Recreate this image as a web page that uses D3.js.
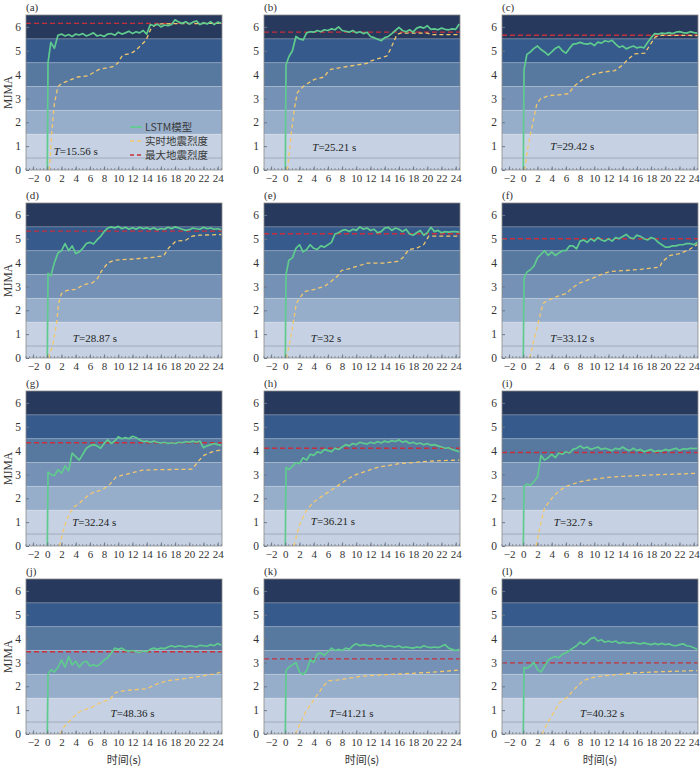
<!DOCTYPE html>
<html>
<head>
<meta charset="utf-8">
<script src="https://cdn.jsdelivr.net/npm/d3@7"></script>
<style>
  body { margin: 0; background: #fff; }
  svg { display: block; }
</style>
</head>
<body>
<div id="chart"></div>
<script>
// panel letters, duration annotation and peak (final) intensity
const panelNames   = ['a', 'b', 'c', 'd', 'e', 'f', 'g', 'h', 'i', 'j', 'k', 'l'];
const durations    = ['15.56', '25.21', '29.42', '28.87', '32', '33.12', '32.24', '36.21', '32.7', '48.36', '41.21', '40.32'];
const peakIntensity = [6.15, 5.78, 5.65, 5.32, 5.21, 5.0, 4.33, 4.1, 3.92, 3.45, 3.15, 2.98];
const xTicks = [-2, 0, 2, 4, 6, 8, 10, 12, 14, 16, 18, 20, 22, 24];
const yTicks = [0, 1, 2, 3, 4, 5, 6];

// LSTM prediction, sampled at these times (s)
const lstmTime = [0, 0.1, 0.5, 1, 1.5, 2, 2.5, 3, 3.5, 4,
  4.5, 5, 5.5, 6, 6.5, 7, 7.5, 8, 8.5, 9,
  9.5, 10, 10.5, 11, 11.5, 12, 12.5, 13, 13.5, 14,
  14.5, 15, 15.5, 16, 16.5, 17, 17.5, 18, 18.5, 19,
  19.5, 20, 20.5, 21, 21.5, 22, 22.5, 23, 23.5, 24,
  24.5];
const lstmA = [0, 4.5, 5.35, 5.1, 5.65, 5.7, 5.62, 5.68, 5.6, 5.7,
  5.66, 5.72, 5.62, 5.68, 5.75, 5.62, 5.66, 5.6, 5.7, 5.72,
  5.65, 5.78, 5.7, 5.75, 5.82, 5.72, 5.8, 5.75, 5.85, 5.7,
  6.1, 6.05, 6.12, 6.0, 6.08, 6.05, 6.1, 6.3, 6.2, 6.15,
  6.22, 6.12, 6.2, 6.25, 6.1, 6.18, 6.12, 6.22, 6.1, 6.2,
  6.15];
const lstmB = [0, 4.4, 4.75, 5.0, 5.6, 5.5, 5.45, 5.75, 5.8, 5.78,
  5.85, 5.8, 5.88, 5.85, 5.92, 5.88, 6.0, 5.85, 5.82, 5.78,
  5.85, 5.75, 5.8, 5.72, 5.78, 5.6, 5.55, 5.48, 5.42, 5.55,
  5.6, 5.72, 5.85, 5.98, 5.85, 5.8, 5.88, 5.78, 5.95, 6.0,
  5.95, 6.05, 5.9, 5.92, 5.88, 5.95, 5.9, 5.88, 5.92, 5.9,
  6.12];
const lstmC = [0, 4.2, 4.85, 4.95, 5.1, 5.2, 5.05, 4.95, 4.82, 4.95,
  5.1, 5.18, 5.0, 4.9, 5.1, 5.28, 5.3, 5.35, 5.3, 5.28,
  5.32, 5.22, 5.36, 5.32, 5.42, 5.38, 5.44, 5.28, 5.15, 5.2,
  5.08, 5.15, 5.2, 5.12, 5.16, 5.12, 5.35, 5.55, 5.72, 5.7,
  5.74, 5.72, 5.76, 5.72, 5.78, 5.8, 5.76, 5.74, 5.8, 5.76,
  5.74];
const lstmD = [0, 3.55, 3.45, 4.0, 4.4, 4.5, 4.8, 4.5, 4.7, 4.38,
  4.45, 4.6, 4.8, 4.85, 4.78, 4.95, 5.1, 5.3, 5.45, 5.5,
  5.45, 5.52, 5.42, 5.48, 5.4, 5.46, 5.4, 5.48, 5.42, 5.46,
  5.4, 5.46, 5.38, 5.43, 5.4, 5.48, 5.42, 5.5, 5.45, 5.4,
  5.35, 5.38, 5.45, 5.42, 5.4, 5.48, 5.42, 5.45, 5.4, 5.42,
  5.38];
const lstmE = [0, 3.5, 4.1, 4.2, 4.6, 4.75, 4.45, 4.55, 4.75, 4.6,
  4.55, 4.7, 4.65, 4.75, 4.85, 5.2, 5.25, 5.35, 5.38, 5.3,
  5.4, 5.35, 5.5, 5.4, 5.45, 5.35, 5.4, 5.25, 5.3, 5.45,
  5.48, 5.35, 5.45, 5.4, 5.3, 5.4, 5.2, 5.15, 5.25, 5.35,
  5.15, 5.25, 5.48, 5.3, 5.35, 5.25, 5.3, 5.28, 5.3, 5.3,
  5.28];
const lstmF = [0, 3.35, 3.6, 3.7, 3.85, 4.2, 4.35, 4.5, 4.3, 4.45,
  4.3, 4.4, 4.5, 4.5, 4.7, 4.7, 4.58, 4.9, 4.95, 4.85,
  5.0, 4.9, 5.05, 4.95, 4.9, 5.0, 4.9, 5.05, 5.0, 5.1,
  5.18, 5.05, 5.0, 5.15, 5.1, 5.0, 4.95, 5.05, 5.0, 4.85,
  4.75, 4.65, 4.65, 4.7, 4.7, 4.75, 4.75, 4.8, 4.8, 4.75,
  4.85];
const lstmG = [0, 3.1, 3.0, 2.95, 3.2, 3.05, 3.35, 3.15, 3.9, 3.75,
  3.6, 3.85, 4.1, 4.2, 4.25, 4.2, 4.1, 4.3, 4.45, 4.3,
  4.4, 4.58, 4.5, 4.55, 4.5, 4.6, 4.55, 4.45, 4.38, 4.4,
  4.35, 4.4, 4.35, 4.32, 4.35, 4.3, 4.33, 4.3, 4.35, 4.33,
  4.38, 4.35, 4.4, 4.35, 4.4, 4.12, 4.2, 4.25, 4.3, 4.25,
  4.22];
const lstmH = [0, 3.3, 3.2, 3.35, 3.5, 3.45, 3.7, 3.6, 3.85, 3.8,
  3.95, 3.9, 4.05, 4.0, 3.95, 4.1, 4.05, 4.15, 4.25, 4.2,
  4.3, 4.25, 4.35, 4.3, 4.28, 4.35, 4.3, 4.38, 4.32, 4.4,
  4.35, 4.42, 4.38, 4.45, 4.35, 4.4, 4.3, 4.35, 4.28, 4.32,
  4.25, 4.3, 4.22, 4.25, 4.2, 4.15, 4.1, 4.12, 4.05, 4.0,
  3.95];
const lstmI = [0, 2.5, 2.6, 2.55, 2.7, 2.9, 3.8, 3.6, 3.7, 3.85,
  3.7, 3.9, 3.85, 3.95, 3.9, 4.05, 4.1, 4.2, 4.1, 4.15,
  4.05, 4.1, 4.15, 4.05, 4.1, 4.05, 4.0, 4.1, 4.05, 4.15,
  4.05, 4.0, 4.1, 4.0, 4.05, 3.95, 4.0, 4.05, 3.95, 4.0,
  3.98, 4.05, 4.0, 4.05, 4.1, 4.0, 4.08, 4.05, 4.1, 4.08,
  4.1];
const lstmJ = [0, 2.5, 2.7, 2.6, 2.8, 3.1, 2.8, 3.25, 2.9, 3.05,
  2.8, 3.0, 3.05, 2.85, 2.9, 2.85, 2.95, 3.1, 3.2, 3.4,
  3.6, 3.55, 3.6, 3.5, 3.48, 3.5, 3.45, 3.42, 3.48, 3.45,
  3.55, 3.6, 3.55, 3.6, 3.58, 3.65, 3.7, 3.65, 3.7, 3.68,
  3.65, 3.7, 3.68, 3.65, 3.72, 3.7, 3.68, 3.75, 3.7, 3.8,
  3.72];
const lstmK = [0, 2.65, 2.8, 2.9, 3.0, 2.6, 2.5, 2.65, 3.1, 3.0,
  3.35, 3.4, 3.3, 3.45, 3.6, 3.5, 3.55, 3.5, 3.6, 3.55,
  3.7, 3.78, 3.7, 3.75, 3.72, 3.7, 3.75, 3.68, 3.72, 3.65,
  3.7, 3.68, 3.65, 3.7, 3.62, 3.65, 3.62, 3.6, 3.65, 3.62,
  3.7, 3.65, 3.62, 3.65, 3.62, 3.68, 3.75, 3.6, 3.55, 3.5,
  3.55];
const lstmL = [0, 2.8, 2.75, 2.85, 3.0, 2.7, 2.6, 2.85, 3.1, 3.2,
  3.25, 3.2, 3.35, 3.4, 3.5, 3.6, 3.7, 3.85, 3.75, 3.85,
  4.0, 4.05, 3.9, 3.95, 3.85, 3.9, 3.85, 3.9, 3.8, 3.85,
  3.82, 3.8, 3.85, 3.8, 3.78, 3.82, 3.78, 3.75, 3.8, 3.75,
  3.8, 3.75, 3.78, 3.72, 3.7, 3.75, 3.78, 3.7, 3.68, 3.62,
  3.55];
const lstmSeries = [lstmA, lstmB, lstmC, lstmD, lstmE, lstmF, lstmG, lstmH, lstmI, lstmJ, lstmK, lstmL];

// real-time intensity, [time, value]
const realA = [[0.3, 0], [0.6, 1.5], [1.0, 2.8], [1.5, 3.5], [2, 3.62], [3, 3.75], [4.3, 3.9], [5.7, 3.95],
  [7.3, 4.22], [9.2, 4.33], [9.9, 4.47], [10.6, 4.82], [11.8, 4.89], [12.5, 5.03], [13.9, 5.44], [14.6, 5.93],
  [15.2, 6.08], [16, 6.13], [24.5, 6.15]];
const realB = [[0.3, 0], [0.8, 1.43], [1.26, 2.55], [1.7, 3.25], [2.7, 3.55], [4.1, 3.8], [5.5, 3.9], [5.9, 4.08],
  [6.4, 4.22], [7.8, 4.29], [9.7, 4.39], [11.5, 4.47], [12, 4.57], [14.3, 4.78], [14.8, 5.06], [15.3, 5.4],
  [15.7, 5.68], [16.2, 5.74], [20, 5.74], [20.5, 5.68], [24.5, 5.68]];
const realC = [[0.2, 0], [0.56, 0.81], [1.0, 1.5], [1.5, 2.2], [1.9, 2.77], [2.4, 2.98], [3.6, 3.12], [5.0, 3.15],
  [6.4, 3.2], [7.1, 3.5], [8.3, 3.78], [9.7, 4.0], [11.1, 4.1], [12.9, 4.17], [13.9, 4.38], [14.8, 4.66],
  [15.7, 4.87], [17.1, 4.9], [18.1, 5.36], [18.6, 5.58], [19.5, 5.65], [24.5, 5.64]];
const realD = [[0.2, 0], [0.8, 0.6], [1.3, 1.44], [1.6, 2.3], [2.0, 2.7], [2.7, 2.83], [4.1, 2.88], [5.0, 3.06],
  [6.4, 3.16], [7.1, 3.35], [7.6, 3.63], [8.5, 3.98], [9.4, 4.1], [12, 4.15], [14.3, 4.2], [16.4, 4.29],
  [17.1, 4.62], [18.1, 4.9], [19.5, 4.94], [20.4, 5.11], [21.4, 5.15], [24.5, 5.18]];
const realE = [[0.15, 0], [0.6, 0.6], [1.1, 1.44], [1.55, 2.29], [2.0, 2.5], [2.7, 2.78], [4.1, 2.88], [5.5, 3.0],
  [6.4, 3.2], [7.4, 3.45], [7.9, 3.67], [8.8, 3.73], [10.7, 3.9], [11.6, 3.98], [13.9, 3.98], [15.8, 4.05],
  [16.5, 4.19], [17.4, 4.55], [18.6, 4.62], [19.5, 4.76], [20.2, 5.11], [24.5, 5.11]];
const realF = [[0.9, 0], [1.6, 0.88], [2.3, 1.72], [2.8, 2.29], [3.5, 2.43], [4.7, 2.57], [6.1, 2.71], [6.8, 2.92],
  [7.9, 3.14], [9.8, 3.35], [11.2, 3.53], [12.2, 3.63], [14.5, 3.67], [16.8, 3.73], [19.2, 3.81], [19.6, 4.05],
  [20.6, 4.29], [22, 4.38], [23.4, 4.55], [24.5, 4.76]];
const realG = [[1.7, 0], [2.4, 0.8], [3.1, 1.37], [3.8, 1.65], [4.5, 1.79], [5.5, 2.06], [6.6, 2.27], [7.6, 2.34],
  [8.7, 2.55], [9.7, 2.9], [10.6, 2.97], [12, 3.07], [13.4, 3.18], [15.3, 3.2], [20.4, 3.22], [21.4, 3.6],
  [22.1, 3.81], [23.2, 3.95], [24.5, 4.03]];
const realH = [[1.2, 0], [2, 0.9], [3, 1.5], [4, 1.85], [5, 2.05], [6, 2.25], [7, 2.45], [8, 2.65], [9, 2.85],
  [10, 3.0], [11, 3.1], [12, 3.2], [13, 3.3], [14, 3.35], [15, 3.4], [16, 3.45], [18, 3.5], [20, 3.55],
  [22, 3.58], [24.5, 3.6]];
const realI = [[1.8, 0], [2.5, 1.0], [3, 1.6], [4, 2.0], [5, 2.3], [6, 2.5], [7, 2.6], [8, 2.7], [9, 2.75],
  [10, 2.8], [12, 2.88], [14, 2.92], [16, 2.95], [18, 2.98], [20, 3.0], [22, 3.02], [24.5, 3.05]];
const realJ = [[1.8, 0], [2.4, 0.32], [3.8, 0.75], [4.7, 0.96], [6.1, 1.1], [7.5, 1.31], [8.9, 1.48], [9.6, 1.74],
  [10.7, 1.81], [12.1, 1.85], [14, 1.9], [15.4, 2.09], [16.8, 2.23], [18.7, 2.3], [21.5, 2.42], [23.4, 2.51],
  [24.3, 2.58], [24.5, 2.65]];
const realK = [[1.4, 0], [2.8, 0.89], [4.2, 1.52], [5.6, 2.09], [6.1, 2.23], [7.5, 2.27], [10.7, 2.42],
  [13.1, 2.47], [15.4, 2.51], [20.1, 2.58], [24.5, 2.68]];
const realL = [[2.6, 0], [3.7, 0.61], [5.1, 1.31], [6.1, 1.52], [7.2, 1.88], [8.4, 2.23], [9.8, 2.37],
  [11.2, 2.44], [13.6, 2.5], [15.4, 2.56], [19.2, 2.61], [24.5, 2.66]];
const realSeries = [realA, realB, realC, realD, realE, realF, realG, realH, realI, realJ, realK, realL];

// layout
const W = 700, H = 768;
const panelW = 196, panelH = 155;
const colStep = 238, rowStep = 188;
const left0 = 26, top0 = 15;
// position of the "T=..." note, in data units of each panel
const noteAt = [[0.9, 0.8], [3.8, 0.95], [3.8, 1.0], [3.6, 0.85], [3.6, 0.85], [3.8, 0.85],
  [3.5, 1.0], [3.6, 1.05], [4.3, 1.0], [8.9, 0.86], [6.2, 0.86], [8.0, 0.86]];

// intensity bands (JMA), bottom to top
const bands = [
  {from: 0,   to: 1.5, color: '#c6d2e3'},
  {from: 1.5, to: 2.5, color: '#97aecb'},
  {from: 2.5, to: 3.5, color: '#7591b6'},
  {from: 3.5, to: 4.5, color: '#57789f'},
  {from: 4.5, to: 5.5, color: '#355a8b'},
  {from: 5.5, to: 6.5, color: '#27395d'}
];

const serif = '"Liberation Serif", "DejaVu Serif", serif';
const cjk = '"Noto Sans CJK SC", sans-serif';
const greenColor = '#5fcb8e', yellowColor = '#f3c86c', redColor = '#c72f3c';

const svg = d3.select('#chart')
  .append('svg')
  .attr('width', W)
  .attr('height', H)
  .attr('viewBox', `0 0 ${W} ${H}`);

const xScale = d3.scaleLinear().domain([-3, 24.6]).range([0, panelW]);
const yScale = d3.scaleLinear().domain([0, 6.5]).range([panelH, 0]);

const line = d3.line()
  .x(d => xScale(d[0]))
  .y(d => yScale(d[1]));

panelNames.forEach((name, i) => {
  const col = i % 3, row = Math.floor(i / 3);
  const px = left0 + col * colStep;
  const py = top0 + row * rowStep;

  const g = svg.append('g').attr('transform', `translate(${px}, ${py})`);

  g.append('clipPath').attr('id', 'clip' + name)
    .append('rect').attr('width', panelW).attr('height', panelH);

  // background bands
  g.selectAll('.band')
    .data(bands)
    .enter()
    .append('rect')
    .attr('class', 'band')
    .attr('x', 0)
    .attr('y', d => yScale(d.to))
    .attr('width', panelW)
    .attr('height', d => yScale(d.from) - yScale(d.to))
    .style('fill', d => d.color);

  // thin separators between bands
  g.selectAll('.sep')
    .data(bands.slice(1))
    .enter()
    .append('line')
    .attr('x1', 0).attr('x2', panelW)
    .attr('y1', d => yScale(d.from)).attr('y2', d => yScale(d.from))
    .style('stroke', 'rgba(255,255,255,0.3)')
    .style('stroke-width', 0.8);

  g.append('line')
    .attr('x1', 0).attr('x2', panelW)
    .attr('y1', yScale(0.5)).attr('y2', yScale(0.5))
    .style('stroke', '#98a3b3')
    .style('stroke-width', 0.8);

  const plot = g.append('g').attr('clip-path', `url(#clip${name})`);

  // peak intensity
  plot.append('line')
    .attr('x1', 0).attr('x2', panelW)
    .attr('y1', yScale(peakIntensity[i])).attr('y2', yScale(peakIntensity[i]))
    .style('stroke', redColor)
    .style('stroke-width', 1.3)
    .style('stroke-dasharray', '5,3');

  // real-time intensity
  plot.append('path')
    .datum(realSeries[i])
    .attr('d', line)
    .style('fill', 'none')
    .style('stroke', yellowColor)
    .style('stroke-width', 1.3)
    .style('stroke-dasharray', '4,3');

  // LSTM prediction
  plot.append('path')
    .datum(lstmTime.map((t, k) => [t, lstmSeries[i][k]]))
    .attr('d', line)
    .style('fill', 'none')
    .style('stroke', greenColor)
    .style('stroke-width', 1.7)
    .style('stroke-linejoin', 'round');

  // frame
  g.append('rect')
    .attr('width', panelW)
    .attr('height', panelH)
    .style('fill', 'none')
    .style('stroke', '#8a8a8a')
    .style('stroke-width', 0.8);

  // minor ticks along the bottom
  g.selectAll('.minor')
    .data(d3.range(-3, 24.6, 0.5))
    .enter()
    .append('line')
    .attr('x1', d => xScale(d)).attr('x2', d => xScale(d))
    .attr('y1', panelH).attr('y2', panelH - 2)
    .style('stroke', '#6d7888')
    .style('stroke-width', 0.7);

  // x axis
  const xAxis = g.append('g')
    .attr('transform', `translate(0, ${panelH})`)
    .call(d3.axisBottom(xScale).tickValues(xTicks).tickSizeInner(-3.5).tickSizeOuter(0)
      .tickFormat(d => d < 0 ? '\u2212' + Math.abs(d) : String(d)));
  xAxis.select('.domain').remove();
  xAxis.selectAll('.tick line').style('stroke', '#6d7888');
  xAxis.selectAll('.tick text')
    .attr('y', 4)
    .style('font-family', serif)
    .style('font-size', '11px')
    .style('fill', '#333');

  // y axis
  const yAxis = g.append('g')
    .call(d3.axisLeft(yScale).tickValues(yTicks).tickSizeInner(-3).tickSizeOuter(0)
      .tickFormat(d3.format('d')));
  yAxis.select('.domain').remove();
  yAxis.selectAll('.tick line').style('stroke', '#6d7888');
  yAxis.selectAll('.tick text')
    .attr('x', -5)
    .style('font-family', serif)
    .style('font-size', '11.5px')
    .style('fill', '#333');

  // panel letter
  g.append('text')
    .attr('x', 0)
    .attr('y', -4)
    .style('font-family', serif)
    .style('font-size', '11px')
    .style('fill', '#333')
    .text(`(${name})`);

  // duration note
  const note = g.append('text')
    .attr('x', xScale(noteAt[i][0]))
    .attr('y', yScale(noteAt[i][1]))
    .attr('dy', '0.35em')
    .style('font-family', serif)
    .style('font-size', '11px')
    .style('fill', '#222');
  note.append('tspan').style('font-style', 'italic').text('T');
  note.append('tspan').text(`=${durations[i]} s`);

  if (col === 0) {
    g.append('text')
      .attr('transform', `translate(${-18}, ${panelH / 2}) rotate(-90)`)
      .attr('text-anchor', 'middle')
      .attr('dy', '0.35em')
      .style('font-family', serif)
      .style('font-size', '11.5px')
      .style('fill', '#333')
      .text('MJMA');
  }

  if (row === 3) {
    g.append('text')
      .attr('x', panelW / 2)
      .attr('y', panelH + 30)
      .attr('text-anchor', 'middle')
      .style('font-family', cjk)
      .style('font-size', '11px')
      .style('fill', '#333')
      .text('时间(s)');
  }

  // legend in the first panel
  if (i === 0) {
    const legend = [
      {label: 'LSTM模型', color: greenColor, dash: null, width: 1.7},
      {label: '实时地震烈度', color: yellowColor, dash: '4,3', width: 1.3},
      {label: '最大地震烈度', color: redColor, dash: '4,3', width: 1.3}
    ];
    const lg = g.append('g').attr('transform', 'translate(104, 112)');
    legend.forEach((d, k) => {
      lg.append('line')
        .attr('x1', 0).attr('x2', 12)
        .attr('y1', k * 14).attr('y2', k * 14)
        .style('stroke', d.color)
        .style('stroke-width', d.width)
        .style('stroke-dasharray', d.dash);
      lg.append('text')
        .attr('x', 15)
        .attr('y', k * 14)
        .attr('dy', '0.35em')
        .style('font-family', cjk)
        .style('font-size', '10.5px')
        .style('fill', '#3a3a3a')
        .text(d.label);
    });
  }
});
</script>
</body>
</html>
